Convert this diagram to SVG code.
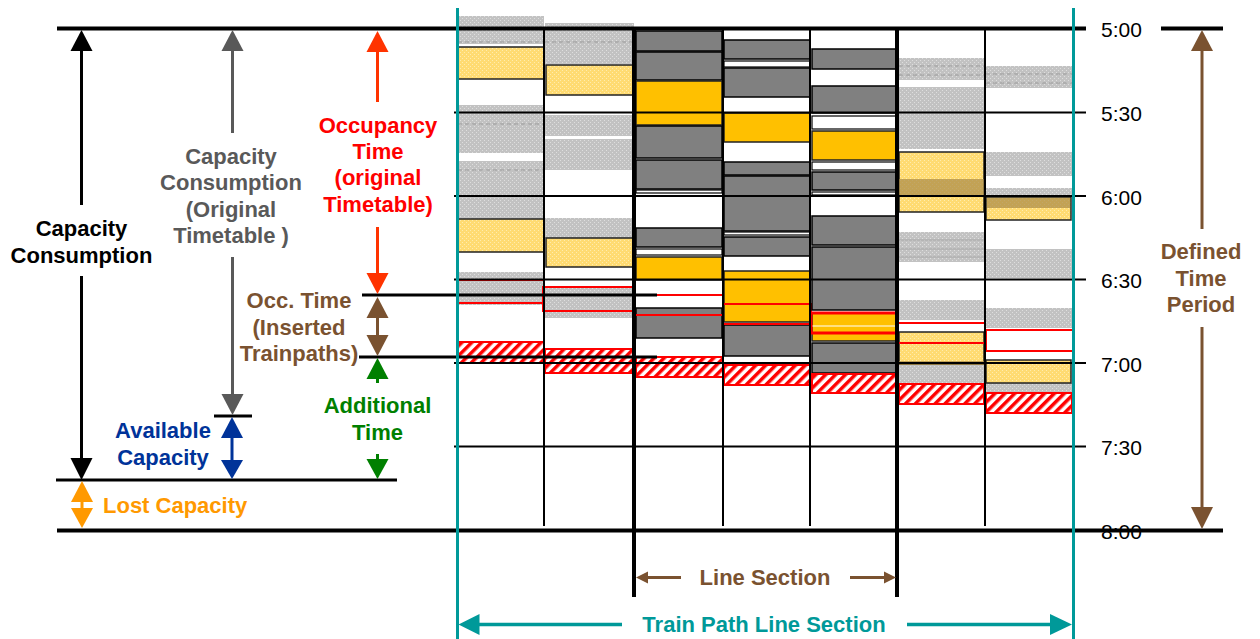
<svg xmlns="http://www.w3.org/2000/svg" width="1260" height="639" viewBox="0 0 1260 639">
  <defs>
    <pattern id="pLg" width="4" height="4" patternUnits="userSpaceOnUse">
      <rect width="4" height="4" fill="#c2c2c2"/>
      <rect width="1" height="1" fill="#dedede"/>
      <rect x="2" y="2" width="1" height="1" fill="#dedede"/>
    </pattern>
    <pattern id="pLy" width="4" height="4" patternUnits="userSpaceOnUse">
      <rect width="4" height="4" fill="#ffdb72"/>
      <rect width="1" height="1" fill="#ffecae"/>
      <rect x="2" y="2" width="1" height="1" fill="#ffecae"/>
    </pattern>
    <pattern id="pRh" width="7" height="7" patternUnits="userSpaceOnUse" patternTransform="rotate(45)">
      <rect width="7" height="7" fill="#fff"/>
      <rect width="3.5" height="7" fill="#ff0000"/>
    </pattern>
  </defs>
  <style>
    .t { font-family: "Liberation Sans", Arial, sans-serif; font-weight: bold; font-size: 22px; text-anchor: middle; }
    .tm { font-family: "Liberation Sans", Arial, sans-serif; font-size: 21px; fill: #000; }
    .lg { fill: url(#pLg); }
    .ly { fill: url(#pLy); stroke: #222; stroke-width: 1.5; }
    .dg { fill: #808080; stroke: #000; stroke-width: 1.5; }
    .or { fill: #ffc000; stroke: #222; stroke-width: 1.5; }
    .wb { fill: #fff; stroke: #000; stroke-width: 1.2; }
    .rb { fill: none; stroke: #ff0000; stroke-width: 2; }
    .rh { fill: url(#pRh); stroke: #ff0000; stroke-width: 2; }
    .band { fill: #a88a48; opacity: 0.7; }
    .dash { stroke: #9a9a9a; stroke-width: 1; stroke-dasharray: 4 3; }
    .grid { stroke: #000; stroke-width: 2; }
    .thick { stroke: #000; stroke-width: 4; }
    .col { stroke: #000; stroke-width: 2; }
    .colT { stroke: #000; stroke-width: 4; }
  </style>

  <!-- occupancy blocks per column -->
  <g id="column-1">
    <rect class="lg" x="458" y="16" width="86" height="28"/>
    <line class="dash" x1="458" y1="42" x2="544" y2="42"/>
    <rect class="ly" x="458" y="47" width="86" height="32"/>
    <rect class="lg" x="458" y="105" width="86" height="48"/>
    <line class="dash" x1="458" y1="124" x2="544" y2="124"/>
    <rect class="lg" x="458" y="161" width="86" height="58"/>
    <line class="dash" x1="458" y1="170" x2="544" y2="170"/>
    <rect class="ly" x="458" y="219" width="86" height="33"/>
    <rect class="lg" x="458" y="272" width="86" height="33"/>
    <rect class="rb" x="458" y="280" width="86" height="23"/>
    <rect class="rh" x="458" y="342" width="86" height="21"/>
  </g>
  <g id="column-2">
    <rect class="lg" x="545" y="23" width="89" height="41"/>
    <line class="dash" x1="545" y1="42" x2="634" y2="42"/>
    <rect class="ly" x="546" y="65" width="88" height="30"/>
    <rect class="lg" x="545" y="115" width="89" height="21"/>
    <rect class="lg" x="545" y="139" width="89" height="31"/>
    <rect class="lg" x="545" y="218" width="89" height="20"/>
    <rect class="ly" x="546" y="238" width="88" height="29"/>
    <rect class="lg" x="545" y="287" width="89" height="31"/>
    <rect class="rb" x="543" y="287" width="91" height="24"/>
    <rect class="rh" x="545" y="349" width="89" height="24"/>
  </g>
  <g id="column-3">
    <rect class="dg" x="636" y="31" width="86" height="20"/>
    <rect class="dg" x="636" y="52" width="86" height="28"/>
    <rect class="or" x="636" y="81" width="86" height="44"/>
    <rect class="dg" x="636" y="126" width="86" height="32"/>
    <rect class="dg" x="636" y="160" width="86" height="29"/>
    <rect class="wb" x="636" y="190" width="86" height="3"/>
    <rect class="dg" x="636" y="228" width="86" height="19"/>
    <rect class="wb" x="636" y="249" width="86" height="6"/>
    <rect class="or" x="636" y="257" width="86" height="23"/>
    <rect class="dg" x="636" y="308" width="86" height="30"/>
    <rect class="rb" x="635" y="295" width="88" height="20"/>
    <rect class="rh" x="636" y="357" width="87" height="20"/>
  </g>
  <g id="column-4">
    <rect class="dg" x="724" y="40" width="86" height="19"/>
    <rect class="wb" x="724" y="61" width="86" height="6"/>
    <rect class="dg" x="724" y="68" width="86" height="29"/>
    <rect class="or" x="724" y="113" width="86" height="29"/>
    <rect class="dg" x="724" y="162" width="86" height="13"/>
    <rect class="dg" x="724" y="176" width="86" height="55"/>
    <rect class="wb" x="724" y="232" width="86" height="3"/>
    <rect class="dg" x="724" y="237" width="86" height="19"/>
    <rect class="or" x="724" y="271" width="86" height="51"/>
    <rect class="dg" x="724" y="325" width="86" height="31"/>
    <rect class="rb" x="723" y="304" width="88" height="20"/>
    <rect class="rh" x="724" y="365" width="86" height="20"/>
  </g>
  <g id="column-5">
    <rect class="dg" x="812" y="49" width="85" height="20"/>
    <rect class="dg" x="812" y="86" width="85" height="27"/>
    <rect class="wb" x="812" y="116" width="85" height="13"/>
    <rect class="or" x="812" y="131" width="85" height="29"/>
    <rect class="wb" x="812" y="162" width="85" height="8"/>
    <rect class="dg" x="812" y="172" width="85" height="18"/>
    <rect class="wb" x="812" y="192" width="85" height="3"/>
    <rect class="dg" x="812" y="216" width="85" height="29"/>
    <rect class="dg" x="812" y="247" width="85" height="63"/>
    <rect class="or" x="812" y="313" width="85" height="28"/>
    <line x1="812" y1="326" x2="897" y2="326" stroke="#fff" stroke-width="1.2"/>
    <rect class="dg" x="812" y="343" width="85" height="30"/>
    <rect x="811" y="313" width="86" height="20" fill="none" stroke="#ff0000" stroke-width="3"/>
    <rect class="rh" x="812" y="374" width="85" height="19"/>
  </g>
  <g id="column-6">
    <rect class="lg" x="899" y="58" width="85" height="22"/>
    <line class="dash" x1="899" y1="66" x2="984" y2="66"/>
    <line class="dash" x1="899" y1="75" x2="984" y2="75"/>
    <rect class="lg" x="899" y="87" width="85" height="62"/>
    <rect class="ly" x="899" y="152" width="85" height="60"/>
    <rect class="band" x="899" y="179" width="85" height="18"/>
    <rect class="lg" x="899" y="232" width="85" height="30"/>
    <line x1="899" y1="240" x2="984" y2="240" stroke="#a8a8a8" stroke-width="1"/>
    <line x1="899" y1="249" x2="984" y2="249" stroke="#a8a8a8" stroke-width="1"/>
    <line x1="899" y1="257" x2="984" y2="257" stroke="#a8a8a8" stroke-width="1"/>
    <rect class="lg" x="899" y="300" width="85" height="20"/>
    <rect class="ly" x="899" y="332" width="85" height="33"/>
    <rect class="band" x="899" y="361" width="85" height="4"/>
    <rect class="lg" x="899" y="365" width="85" height="18"/>
    <rect class="rb" x="897" y="323" width="88" height="20"/>
    <rect class="rh" x="899" y="384" width="85" height="20"/>
  </g>
  <g id="column-7">
    <rect class="lg" x="986" y="66" width="86" height="22"/>
    <line class="dash" x1="986" y1="74" x2="1072" y2="74"/>
    <line class="dash" x1="986" y1="83" x2="1072" y2="83"/>
    <rect class="lg" x="986" y="152" width="86" height="24"/>
    <rect class="lg" x="986" y="188" width="86" height="8"/>
    <rect class="ly" x="986" y="197" width="85" height="23"/>
    <rect class="band" x="987" y="198" width="83" height="10"/>
    <rect class="lg" x="986" y="249" width="86" height="29"/>
    <rect class="lg" x="986" y="308" width="86" height="20"/>
    <rect class="rb" x="986" y="330" width="87" height="21"/>
    <rect class="lg" x="986" y="383" width="86" height="9"/>
    <rect class="ly" x="986" y="360" width="85" height="23"/>
    <rect class="rh" x="986" y="393" width="86" height="20"/>
  </g>

  <!-- time axis, grid and column dividers -->
  <g id="grid">
    <line class="grid" x1="454" y1="112.5" x2="1086" y2="112.5"/>
    <line class="grid" x1="454" y1="196" x2="1086" y2="196"/>
    <line class="grid" x1="454" y1="279.5" x2="1086" y2="279.5"/>
    <line class="grid" x1="454" y1="363" x2="1086" y2="363"/>
    <line class="grid" x1="454" y1="446.5" x2="1086" y2="446.5"/>
    <line class="col" x1="544" y1="28" x2="544" y2="526"/>
    <line class="col" x1="723" y1="28" x2="723" y2="526"/>
    <line class="col" x1="810" y1="28" x2="810" y2="526"/>
    <line class="col" x1="985" y1="28" x2="985" y2="526"/>
    <line class="colT" x1="634" y1="28" x2="634" y2="597"/>
    <line class="colT" x1="897" y1="28" x2="897" y2="597"/>
    <line class="thick" x1="57" y1="28.5" x2="1086" y2="28.5"/>
    <line class="thick" x1="1161" y1="28.5" x2="1223" y2="28.5"/>
    <line class="thick" x1="57" y1="530.5" x2="1223" y2="530.5"/>
    <line class="thick" x1="56" y1="480" x2="397" y2="480" style="stroke-width:3"/>
    <line class="thick" x1="362" y1="295" x2="657" y2="295" style="stroke-width:3"/>
    <line class="thick" x1="359" y1="357" x2="657" y2="357" style="stroke-width:3"/>
    <line class="thick" x1="214" y1="416" x2="252" y2="416" style="stroke-width:3"/>
    <line x1="457.5" y1="8" x2="457.5" y2="639" stroke="#009999" stroke-width="3"/>
    <line x1="1073.5" y1="8" x2="1073.5" y2="639" stroke="#009999" stroke-width="3"/>
    <text class="tm" x="1101" y="37">5:00</text>
    <text class="tm" x="1101" y="121">5:30</text>
    <text class="tm" x="1101" y="204.5">6:00</text>
    <text class="tm" x="1101" y="288">6:30</text>
    <text class="tm" x="1101" y="371.5">7:00</text>
    <text class="tm" x="1101" y="455">7:30</text>
    <text class="tm" x="1101" y="539">8:00</text>
  </g>

  <!-- dimension arrows -->
  <g id="connectors">
    <!-- capacity consumption (black) -->
    <g stroke="#000" stroke-width="3" fill="#000">
      <line x1="81.5" y1="48" x2="81.5" y2="205"/>
      <line x1="81.5" y1="276" x2="81.5" y2="460"/>
      <polygon points="81.5,30 70.5,51 92.5,51" stroke="none"/>
      <polygon points="81.5,480 70.5,458 92.5,458" stroke="none"/>
    </g>
    <!-- capacity consumption, original timetable (grey) -->
    <g stroke="#595959" stroke-width="3" fill="#595959">
      <line x1="232.5" y1="48" x2="232.5" y2="133"/>
      <line x1="232.5" y1="257" x2="232.5" y2="397"/>
      <polygon points="232.5,30 221.5,51 243.5,51" stroke="none"/>
      <polygon points="232.5,415 221.5,394 243.5,394" stroke="none"/>
    </g>
    <!-- occupancy time (red) -->
    <g stroke="#ff3300" stroke-width="3" fill="#ff3300">
      <line x1="377.5" y1="49" x2="377.5" y2="102"/>
      <line x1="377.5" y1="227" x2="377.5" y2="275"/>
      <polygon points="377.5,31 366.5,52 388.5,52" stroke="none"/>
      <polygon points="377.5,294 366.5,273 388.5,273" stroke="none"/>
    </g>
    <!-- inserted train paths (brown) -->
    <g stroke="#7a5230" stroke-width="3" fill="#7a5230">
      <line x1="377.5" y1="315" x2="377.5" y2="337"/>
      <polygon points="377.5,297 366.5,318 388.5,318" stroke="none"/>
      <polygon points="377.5,356 366.5,335 388.5,335" stroke="none"/>
    </g>
    <!-- additional time (green) -->
    <g stroke="#008000" stroke-width="3" fill="#008000">
      <line x1="377.5" y1="377" x2="377.5" y2="383"/>
      <line x1="377.5" y1="454" x2="377.5" y2="461"/>
      <polygon points="377.5,358 366.5,379 388.5,379" stroke="none"/>
      <polygon points="377.5,479 366.5,459 388.5,459" stroke="none"/>
    </g>
    <!-- available capacity (blue) -->
    <g stroke="#003399" stroke-width="3" fill="#003399">
      <line x1="232" y1="436" x2="232" y2="462"/>
      <polygon points="232,417 221,438 243,438" stroke="none"/>
      <polygon points="232,479 221,460 243,460" stroke="none"/>
    </g>
    <!-- lost capacity (orange) -->
    <g stroke="#ff9900" stroke-width="3" fill="#ff9900">
      <line x1="82" y1="500" x2="82" y2="510"/>
      <polygon points="82,481 71,502 93,502" stroke="none"/>
      <polygon points="82,528 71,508 93,508" stroke="none"/>
    </g>
    <!-- defined time period (brown) -->
    <g stroke="#7a5230" stroke-width="3" fill="#7a5230">
      <line x1="1202" y1="48" x2="1202" y2="229"/>
      <line x1="1202" y1="327" x2="1202" y2="509"/>
      <polygon points="1202,30 1191,51 1213,51" stroke="none"/>
      <polygon points="1202,529 1191,507 1213,507" stroke="none"/>
    </g>
    <!-- line section (brown, horizontal) -->
    <g stroke="#7a5230" stroke-width="3" fill="#7a5230">
      <line x1="646" y1="577.5" x2="681" y2="577.5"/>
      <line x1="850" y1="577.5" x2="886" y2="577.5"/>
      <polygon points="636,577.5 648,571.5 648,583.5" stroke="none"/>
      <polygon points="896,577.5 884,571.5 884,583.5" stroke="none"/>
    </g>
    <!-- train path line section (teal, horizontal) -->
    <g stroke="#009999" stroke-width="3.5" fill="#009999">
      <line x1="477" y1="624.5" x2="622" y2="624.5"/>
      <line x1="907" y1="624.5" x2="1052" y2="624.5"/>
      <polygon points="458.5,624.5 479.5,614 479.5,635" stroke="none"/>
      <polygon points="1072,624.5 1050,614 1050,635" stroke="none"/>
    </g>
  </g>

  <!-- labels -->
  <g id="label-capacity-consumption">
    <text class="t" x="81.5" y="236" fill="#000">Capacity</text>
    <text class="t" x="81.5" y="262.5" fill="#000">Consumption</text>
  </g>
  <g id="label-capacity-original">
    <text class="t" x="231" y="163.5" fill="#595959">Capacity</text>
    <text class="t" x="231" y="190" fill="#595959">Consumption</text>
    <text class="t" x="231" y="216.5" fill="#595959">(Original</text>
    <text class="t" x="231" y="243" fill="#595959">Timetable )</text>
  </g>
  <g id="label-occupancy-time">
    <text class="t" x="378" y="132.5" fill="#ff0000">Occupancy</text>
    <text class="t" x="378" y="158.5" fill="#ff0000">Time</text>
    <text class="t" x="378" y="185" fill="#ff0000">(original</text>
    <text class="t" x="378" y="211.5" fill="#ff0000">Timetable)</text>
  </g>
  <g id="label-inserted">
    <text class="t" x="299" y="308" fill="#7a5230">Occ. Time</text>
    <text class="t" x="299" y="334.5" fill="#7a5230">(Inserted</text>
    <text class="t" x="299" y="361" fill="#7a5230">Trainpaths)</text>
  </g>
  <g id="label-additional-time">
    <text class="t" x="377.5" y="412.5" fill="#008000">Additional</text>
    <text class="t" x="377.5" y="439.5" fill="#008000">Time</text>
  </g>
  <g id="label-available-capacity">
    <text class="t" x="163" y="437.5" fill="#003399">Available</text>
    <text class="t" x="163" y="465" fill="#003399">Capacity</text>
  </g>
  <g id="label-lost-capacity">
    <text class="t" x="103" y="512.5" fill="#ff9900" style="text-anchor:start">Lost Capacity</text>
  </g>
  <g id="label-defined-time-period">
    <text class="t" x="1201" y="259" fill="#7a5230">Defined</text>
    <text class="t" x="1201" y="285.5" fill="#7a5230">Time</text>
    <text class="t" x="1201" y="312" fill="#7a5230">Period</text>
  </g>
  <g id="label-line-section">
    <text class="t" x="765" y="584.5" fill="#7a5230">Line Section</text>
  </g>
  <g id="label-train-path-line-section">
    <text class="t" x="764" y="631.5" fill="#009999">Train Path Line Section</text>
  </g>
</svg>
